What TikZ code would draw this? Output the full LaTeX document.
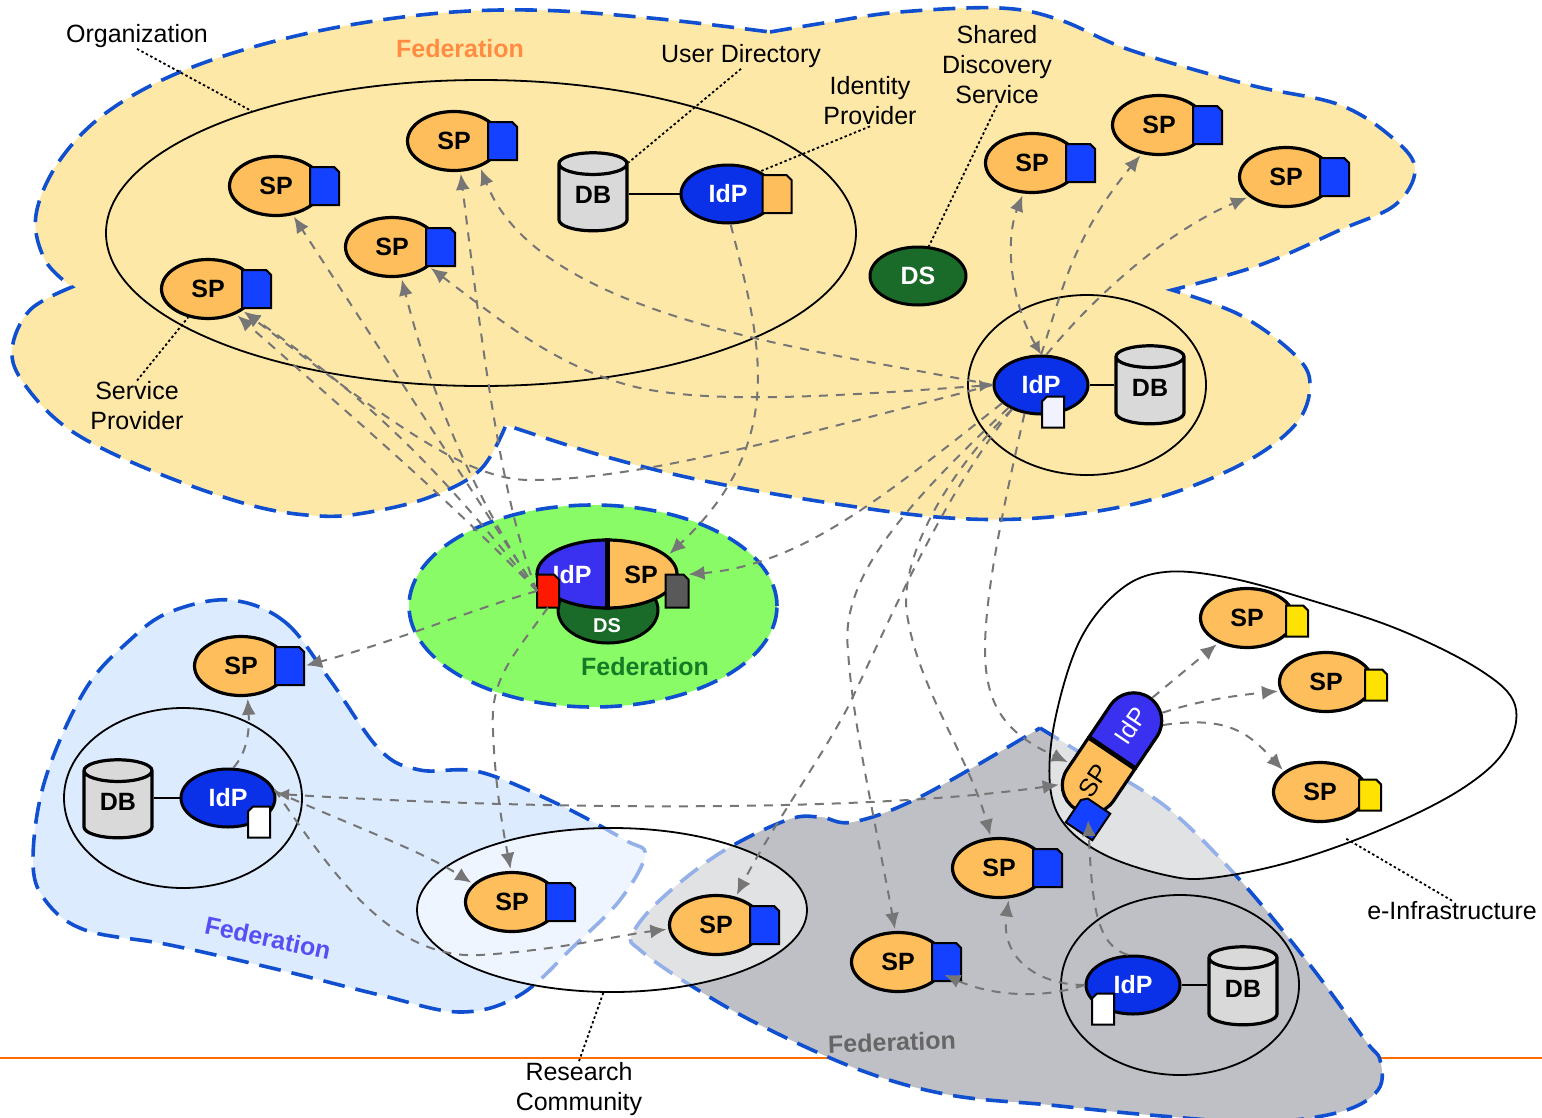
\documentclass[tikz,border=0pt]{standalone}
\usepackage{fontspec}
\setmainfont{Liberation Sans}
\usetikzlibrary{positioning,shapes.geometric,shapes.misc,arrows.meta}
\definecolor{fedorange}{HTML}{FEE8A8}
\definecolor{fedgreen}{HTML}{88FB66}
\definecolor{fedblue}{HTML}{DDEBFF}
\definecolor{fedgrey}{HTML}{BEC0C5}
\definecolor{fedline}{HTML}{1050D0}
\definecolor{sporange}{HTML}{FFBE5C}
\definecolor{idpblue}{HTML}{0A30E8}
\definecolor{capblue}{HTML}{3A30F0}
\definecolor{docblue}{HTML}{1440FF}
\definecolor{dsgreen}{HTML}{1A6B2A}
\definecolor{linkgrey}{HTML}{767676}
\makeatletter
\pgfdeclareshape{docshape}{
  \inheritsavedanchors[from=rectangle]
  \inheritanchorborder[from=rectangle]
  \inheritanchor[from=rectangle]{center}
  \inheritanchor[from=rectangle]{north}
  \inheritanchor[from=rectangle]{south}
  \inheritanchor[from=rectangle]{east}
  \inheritanchor[from=rectangle]{west}
  \backgroundpath{
    \southwest \pgf@xa=\pgf@x \pgf@ya=\pgf@y
    \northeast \pgf@xb=\pgf@x \pgf@yb=\pgf@y
    \pgf@xc=\pgf@xb \advance\pgf@xc by -5pt
    \pgf@yc=\pgf@yb \advance\pgf@yc by -5pt
    \pgfpathmoveto{\pgfqpoint{\pgf@xa}{\pgf@ya}}
    \pgfpathlineto{\pgfqpoint{\pgf@xa}{\pgf@yb}}
    \pgfpathlineto{\pgfqpoint{\pgf@xc}{\pgf@yb}}
    \pgfpathlineto{\pgfqpoint{\pgf@xb}{\pgf@yc}}
    \pgfpathlineto{\pgfqpoint{\pgf@xb}{\pgf@ya}}
    \pgfpathclose
  }
}
\makeatother
\tikzset{
  every node/.style={font=\fontsize{25}{30}\selectfont},
  fed/.style={draw=fedline, line width=3.6pt, dash pattern=on 22pt off 11pt},
  spnode/.style={ellipse, draw=black, line width=3.2pt, fill=sporange, minimum width=93pt, minimum height=59pt, inner sep=0pt, font=\fontsize{25}{29}\selectfont\bfseries},
  idpnode/.style={ellipse, draw=black, line width=3pt, fill=idpblue, text=white, minimum width=94pt, minimum height=58pt, inner sep=0pt, font=\fontsize{25}{29}\selectfont\bfseries},
  dsnode/.style={ellipse, draw=black, line width=3pt, fill=dsgreen, text=white, minimum width=96pt, minimum height=58pt, inner sep=0pt, font=\fontsize{25}{29}\selectfont\bfseries},
  dbnode/.style={cylinder, shape border rotate=90, aspect=.6, draw=black, line width=3.2pt, cylinder uses custom fill, cylinder body fill=black!15, cylinder end fill=black!15, minimum width=68pt, minimum height=78pt, inner sep=0pt, text depth=6pt, font=\fontsize{25}{29}\selectfont\bfseries},
  docnode/.style={docshape, draw=black, line width=2pt, minimum width=27pt, minimum height=36pt, inner sep=0pt},
  docsmall/.style={docnode, minimum width=20pt, minimum height=29pt},
  orgnode/.style={ellipse, draw=black, line width=1.8pt, minimum width=238pt, minimum height=180pt, inner sep=0pt},
  link/.style={draw=linkgrey, line width=2pt, dash pattern=on 9pt off 8pt, -{Latex[length=16pt,width=14pt]}, shorten >=2pt},
  bothlink/.style={link, {Latex[length=13pt,width=12pt]}-{Latex[length=16pt,width=14pt]}},
  leader/.style={draw=black, line width=1.8pt, dash pattern=on 2.5pt off 2.5pt},
  lbl/.style={align=center, inner sep=1pt}
}
\begin{document}
\begin{tikzpicture}[x=1pt, y=-1pt]
  \useasboundingbox (0,0) rectangle (1542,1117);
  \draw[draw=orange!85!red, line width=2pt] (0,1058) -- (1542,1058);

  % Federations
  \path[fed, fill=fedorange] plot[smooth, tension=.6] coordinates {(770,32) (830,22) (900,12) (1000,8) (1060,20) (1130,50) (1250,85) (1340,105) (1395,140) (1415,170) (1395,205) (1340,230) (1260,265) (1172,290)}
    -- plot[smooth, tension=.6] coordinates {(1172,290) (1240,315) (1295,355) (1310,385) (1295,425) (1240,465) (1150,500) (1050,517) (950,518) (830,503) (700,480) (600,455) (506,425)}
    -- plot[smooth, tension=.6] coordinates {(506,425) (480,470) (430,497) (370,512) (320,516) (250,505) (150,470) (70,430) (25,385) (12,350) (30,310) (72,287)}
    -- plot[smooth, tension=.6] coordinates {(72,287) (45,260) (36,215) (60,160) (110,110) (190,68) (300,35) (420,15) (530,10) (650,18) (770,32)} -- cycle;
  \path[fed, fill=fedblue] plot[smooth cycle, tension=.6] coordinates {(230,600) (285,622) (330,680) (380,750) (420,770) (480,772) (560,805) (625,840) (645,855) (620,900) (575,945) (520,995) (460,1012) (380,995) (280,970) (170,945) (85,930) (45,900) (33,860) (45,780) (85,690) (130,640) (170,612)};
  \path[fed, fill=fedgrey] plot[smooth, tension=.6] coordinates {(1040,728) (1100,765) (1170,810) (1240,880) (1310,965) (1365,1040) (1380,1060) (1378,1090) (1340,1112) (1260,1122) (1150,1115) (1050,1105) (950,1095) (860,1070) (760,1025) (690,985) (640,950) (632,935) (660,900) (720,853) (787,820) (820,817) (853,822) (920,797) (1040,728)} -- cycle;
  \node (fedcentre) [ellipse, fed, fill=fedgreen, minimum width=368pt, minimum height=202pt] at (593,606) {};

  % Groups
  \node (org) [orgnode, minimum width=750pt, minimum height=306pt] at (481,233) {};
  \node (orgright) [orgnode] at (1087,385) {};
  \node (orgblue) [orgnode] at (183,798) {};
  \node (orggrey) [orgnode] at (1180,985) {};
  \node (research) [orgnode, fill=white, fill opacity=.55, minimum width=390pt, minimum height=164pt] at (612,910) {};
  \path[draw=black, line width=1.8pt, fill=white, fill opacity=.55] plot[smooth cycle, tension=.6] coordinates {(1165,572) (1230,578) (1310,600) (1400,630) (1480,670) (1515,705) (1505,750) (1460,790) (1380,830) (1290,862) (1210,878) (1165,875) (1105,855) (1065,825) (1050,785) (1055,720) (1080,640) (1120,590)};
  \coordinate (einfraedge) at (1345,838);

  % Top federation
  \node (sp1) [spnode] at (276,186) {SP};
  \node (sp1doc) [docnode, fill=docblue, right=-14pt of sp1] {};
  \node (sp2) [spnode] at (454,141) {SP};
  \node (sp2doc) [docnode, fill=docblue, right=-14pt of sp2] {};
  \node (sp3) [spnode] at (208,289) {SP};
  \node (sp3doc) [docnode, fill=docblue, right=-14pt of sp3] {};
  \node (sp4) [spnode] at (392,247) {SP};
  \node (sp4doc) [docnode, fill=docblue, right=-14pt of sp4] {};
  \node (sp5) [spnode] at (1032,163) {SP};
  \node (sp5doc) [docnode, fill=docblue, right=-14pt of sp5] {};
  \node (sp6) [spnode] at (1159,125) {SP};
  \node (sp6doc) [docnode, fill=docblue, right=-14pt of sp6] {};
  \node (sp7) [spnode] at (1286,177) {SP};
  \node (sp7doc) [docnode, fill=docblue, right=-14pt of sp7] {};
  \node (db1) [dbnode] at (593,198) {DB};
  \node (idp1) [idpnode] at (728,194) {IdP};
  \node (idp1doc) [docnode, fill=sporange, right=-14pt of idp1] {};
  \node (ds1) [dsnode] at (918,276) {DS};
  \node (idp2) [idpnode] at (1041,385) {IdP};
  \node (idp2doc) [docsmall, fill=blue!5, xscale=-1] at (1053,412) {};
  \node (db2) [dbnode] at (1150,391) {DB};

  % Centre federation
  \node (fedds) [ellipse, draw=black, line width=3pt, fill=dsgreen, minimum width=100pt, minimum height=66pt, inner sep=0pt] at (608,610) {};
  \node (fedcombo) [ellipse, draw=black, line width=3.2pt, fill=sporange, minimum width=140pt, minimum height=68pt, inner sep=0pt,
    path picture={\fill[capblue] (path picture bounding box.north west) rectangle (path picture bounding box.south);}] at (607,574) {};
  \draw[line width=5pt] (fedcombo.north) -- (fedcombo.south);
  \node (fedidptext) [text=white, font=\fontsize{25}{29}\selectfont\bfseries] at (572,575) {IdP};
  \node (fedsptext) [font=\fontsize{25}{29}\selectfont\bfseries] at (641,575) {SP};
  \node (feddstext) [text=white, font=\fontsize{20}{24}\selectfont\bfseries] at (607,626) {DS};
  \node (fedred) [docnode, fill=red!80!orange, minimum width=20pt, minimum height=31pt] at (548,591) {};
  \node (feddoc) [docnode, fill=black!65, minimum width=21pt, minimum height=31pt] at (677,591) {};

  % Blue federation
  \node (spb) [spnode] at (241,666) {SP};
  \node (spbdoc) [docnode, fill=docblue, right=-14pt of spb] {};
  \node (db3) [dbnode] at (118,805) {DB};
  \node (idp3) [idpnode] at (228,798) {IdP};
  \node (idp3doc) [docsmall, fill=white, xscale=-1] at (259,822) {};

  % Research community
  \node (spr1) [spnode] at (512,902) {SP};
  \node (spr1doc) [docnode, fill=docblue, right=-14pt of spr1] {};
  \node (spr2) [spnode] at (716,925) {SP};
  \node (spr2doc) [docnode, fill=docblue, right=-14pt of spr2] {};

  % Grey federation
  \node (spg1) [spnode] at (999,868) {SP};
  \node (spg1doc) [docnode, fill=docblue, right=-14pt of spg1] {};
  \node (spg2) [spnode] at (898,962) {SP};
  \node (spg2doc) [docnode, fill=docblue, right=-14pt of spg2] {};
  \node (idp4) [idpnode] at (1133,985) {IdP};
  \node (idp4doc) [docsmall, fill=white, xscale=-1] at (1103,1009) {};
  \node (db4) [dbnode] at (1243,992) {DB};

  % e-Infrastructure
  \node (spe1) [spnode] at (1247,618) {SP};
  \node (spe1doc) [docsmall, fill=yellow!85!orange, right=-9pt of spe1, yshift=-3pt] {};
  \node (spe2) [spnode] at (1326,682) {SP};
  \node (spe2doc) [docsmall, fill=yellow!85!orange, right=-9pt of spe2, yshift=-3pt] {};
  \node (spe3) [spnode] at (1320,792) {SP};
  \node (spe3doc) [docsmall, fill=yellow!85!orange, right=-9pt of spe3, yshift=-3pt] {};
  \node (capsp) [rounded rectangle, rounded rectangle right arc=none, draw=black, line width=3.2pt, fill=sporange, rotate=56, minimum width=66pt, minimum height=56pt, inner sep=0pt] at (1093.5,780.4) {SP};
  \node (capidp) [rounded rectangle, rounded rectangle left arc=none, draw=black, line width=3.2pt, fill=capblue, text=white, rotate=56, minimum width=66pt, minimum height=56pt, inner sep=0pt] at (1130.5,725.6) {IdP};
  \node (capdoc) [docnode, fill=docblue, rotate=56, minimum width=30pt, minimum height=30pt] at (1088,818) {};

  % Plain connections
  \draw[line width=1.8pt] (db1.east |- idp1.west) -- (idp1.west);
  \draw[line width=1.8pt] (idp2.east) -- (db2.west |- idp2.east);
  \draw[line width=1.8pt] (db3.east |- idp3.west) -- (idp3.west);
  \draw[line width=1.8pt] (idp4.east) -- (db4.west |- idp4.east);

  % Trust links
  \draw[link] (fedred.west) -- (sp1.-60);
  \draw[link] (fedred.west) .. controls (470,490) and (430,390) .. (sp4.-73);
  \draw[link] (fedred.west) .. controls (500,500) and (480,330) .. (sp2.-78);
  \draw[link] (fedred.west) .. controls (450,500) and (350,415) .. (sp3.-42);
  \draw[link] (fedred.west) .. controls (470,510) and (400,420) .. (sp3.-32);
  \draw[link] (idp2.180) .. controls (800,435) and (640,480) .. (530,480) .. controls (470,480) and (400,430) .. (sp3.-32);
  \draw[bothlink] (idp2.180) .. controls (850,395) and (720,405) .. (640,388) .. controls (560,370) and (500,320) .. (sp4.-28);
  \draw[link] (idp2.180) .. controls (820,350) and (540,320) .. (sp2.-45);
  \draw[link] (idp1.-85) .. controls (760,340) and (790,440) .. (fedcombo.17);
  \draw[link] (idp2.205) .. controls (880,500) and (800,565) .. (feddoc.60);
  \draw[bothlink] (idp2.90) .. controls (1010,300) and (1005,240) .. (sp5.-106);
  \draw[link] (idp2.90) .. controls (1060,300) and (1070,240) .. (sp6.-121);
  \draw[link] (idp2.80) .. controls (1100,290) and (1170,230) .. (sp7.-152);
  \draw[link] (idp2.215) .. controls (900,510) and (840,580) .. (848,650) .. controls (852,720) and (875,820) .. (spg2.95);
  \draw[link] (idp2.220) .. controls (940,500) and (890,620) .. (848,707) .. controls (820,760) and (770,830) .. (spr2.55);
  \draw[link] (idp2.220) .. controls (950,470) and (895,560) .. (908,620) .. controls (920,690) and (970,760) .. (spg1.105);
  \draw[link] (idp2.240) .. controls (1005,500) and (985,590) .. (985,650) .. controls (985,710) and (1010,735) .. (capsp.88);
  \draw[link] (fedred.west) .. controls (470,610) and (400,640) .. (spbdoc.east);
  \draw[link] (fedred.south) .. controls (510,660) and (490,680) .. (493,730) .. controls (495,790) and (505,840) .. (spr1.92);
  \draw[bothlink] (idp3.5) .. controls (500,808) and (850,815) .. (capsp.131);
  \draw[link] (idp3.8) .. controls (350,825) and (420,850) .. (spr1.155);
  \draw[link] (idp3.10) .. controls (330,870) and (390,960) .. (480,955) .. controls (560,950) and (620,935) .. (spr2.185);
  \draw[link] (idp3.80) .. controls (245,755) and (250,735) .. (spb.-78);
  \draw[link] (idp4.180) .. controls (1040,985) and (1000,960) .. (spg1.-72);
  \draw[link] (idp4.180) .. controls (1040,1000) and (990,995) .. (spg2.-15);
  \draw[link] (idp4.100) .. controls (1095,945) and (1092,900) .. (capdoc.center);
  \draw[link] (capidp.-4) -- (spe1.221);
  \draw[link] (capidp.-34) .. controls (1200,700) and (1240,695) .. (spe2.191);
  \draw[link] (capidp.-55) .. controls (1230,715) and (1250,735) .. (spe3.150);

  % Labels
  \node (lblfed1) [lbl, text=orange!80!red!75, font=\fontsize{25}{29}\selectfont\bfseries] at (460,49) {Federation};
  \node (lblfed2) [lbl, text=dsgreen!90!green, font=\fontsize{25}{29}\selectfont\bfseries] at (645,667) {Federation};
  \node (lblfed3) [lbl, text=capblue!85!white, rotate=-12, font=\fontsize{25}{29}\selectfont\bfseries] at (268,938) {Federation};
  \node (lblfed4) [lbl, text=black!60, rotate=2, font=\fontsize{25}{29}\selectfont\bfseries] at (892,1042) {Federation};
  \node (lblorg) [lbl] at (137,36) {Organization};
  \node (lbluser) [lbl] at (741,56) {User Directory};
  \node (lblidentity) [lbl] at (870,101) {Identity\\Provider};
  \node (lblshared) [lbl] at (997,65) {Shared\\Discovery\\Service};
  \node (lblservice) [lbl] at (137,406) {Service\\Provider};
  \node (lblinfra) [lbl] at (1452,911) {e-Infrastructure};
  \node (lblresearch) [lbl] at (579,1089) {Research\\Community};

  \draw[leader] (lblorg.south) -- (org.152);
  \draw[leader] (lbluser.south) -- (db1.45);
  \draw[leader] (lblidentity.south) -- (idp1.35);
  \draw[leader] (lblshared.south) -- (ds1.70);
  \draw[leader] (lblservice.north) -- (sp3.-125);
  \draw[leader] (lblinfra.north) -- (einfraedge);
  \draw[leader] (lblresearch.north) -- (research.264);
\end{tikzpicture}
\end{document}
